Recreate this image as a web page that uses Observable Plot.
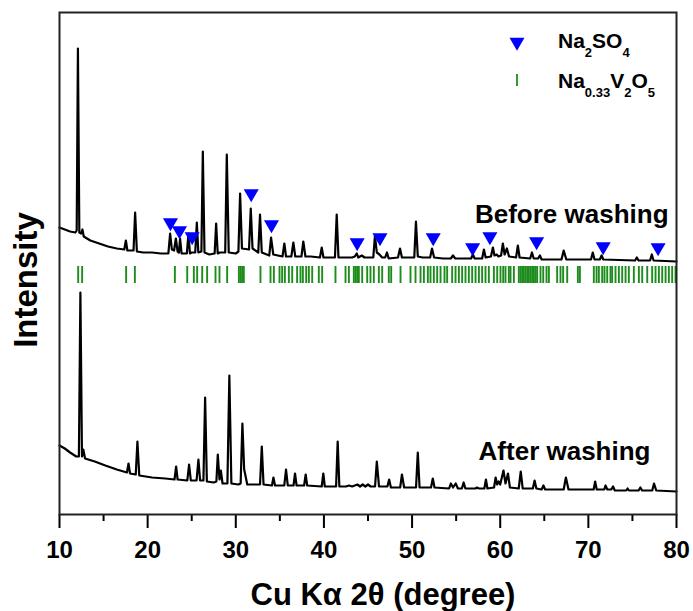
<!DOCTYPE html>
<html>
<head>
<meta charset="utf-8">
<script src="https://cdn.jsdelivr.net/npm/d3@7"></script>
<script src="https://cdn.jsdelivr.net/npm/@observablehq/plot@0.6"></script>
<style>
  html, body { margin: 0; padding: 0; background: #fff; }
  #chart { width: 693px; height: 611px; }
</style>
</head>
<body>
<div id="chart"></div>
<script>
// ---- Data (2θ in degrees, intensity in a.u.) ----
const majorTicks = [10, 20, 30, 40, 50, 60, 70, 80];
const minorTicks = [15, 25, 35, 45, 55, 65, 75];

// XRD pattern "Before washing" : [2θ, intensity]
const beforeWashing = [
  [10.0, 287], [10.6, 285], [11.2, 283], [11.8, 282], [11.95, 284], [12.09, 466], [12.25, 282], [12.45, 281],
  [12.6, 285], [12.75, 278], [13.5, 274], [14.5, 271], [15.5, 268], [16.5, 266], [17.35, 265], [17.53, 274],
  [17.7, 264], [18.4, 264], [18.58, 302], [18.78, 263], [19.5, 262], [20.5, 262], [21.5, 261], [22.35, 261],
  [22.55, 281], [22.75, 265], [23.0, 264], [23.2, 276], [23.4, 263], [23.55, 262], [23.68, 276], [23.85, 261],
  [24.45, 261], [24.63, 281], [24.8, 261], [25.0, 262], [25.4, 262], [25.58, 292], [25.75, 262], [26.1, 263],
  [26.26, 363], [26.45, 262], [27.0, 260], [27.6, 261], [27.77, 291], [27.95, 261], [28.2, 262], [28.8, 262],
  [28.98, 360], [29.2, 262], [30.0, 261], [30.3, 263], [30.49, 321], [30.7, 266], [31.5, 265], [31.7, 306],
  [31.9, 266], [32.55, 262], [32.75, 300], [32.95, 262], [33.8, 259], [34.0, 277], [34.25, 260], [35.3, 258],
  [35.51, 271], [35.7, 258], [36.3, 258], [36.53, 272], [36.75, 258], [37.45, 258], [37.66, 273], [37.9, 258],
  [38.5, 258], [39.55, 257], [39.75, 267], [39.95, 257], [41.25, 257], [41.45, 300], [41.65, 257], [42.5, 257],
  [43.2, 257], [43.5, 258], [43.72, 261], [43.9, 257], [44.3, 259], [44.6, 257], [45.6, 257], [45.79, 279],
  [46.0, 262], [46.3, 260], [46.6, 257], [46.95, 257], [47.15, 262], [47.35, 256], [48.4, 257], [48.63, 266],
  [48.85, 257], [50.25, 257], [50.44, 293], [50.65, 258], [51.2, 257], [52.05, 257], [52.26, 266], [52.5, 257],
  [53.5, 256], [54.4, 256], [54.64, 259], [54.9, 256], [56.7, 256], [56.9, 260], [57.1, 256], [57.95, 256],
  [58.15, 265], [58.35, 257], [58.95, 258], [59.17, 267], [59.35, 259], [59.6, 260], [59.8, 258], [60.1, 259],
  [60.3, 271], [60.5, 260], [60.76, 266], [61.0, 258], [61.8, 257], [62.0, 269], [62.2, 257], [63.4, 256],
  [63.6, 262], [63.8, 256], [64.3, 256], [64.5, 259], [64.7, 255], [66.95, 255], [67.2, 264], [67.5, 255],
  [70.3, 255], [70.5, 262], [70.7, 255], [71.3, 255], [71.5, 259], [71.7, 255], [75.3, 254], [75.5, 257],
  [75.7, 254], [77.0, 254], [77.2, 260], [77.4, 254], [80.0, 253]
];

// XRD pattern "After washing" : [2θ, intensity]
const afterWashing = [
  [10.0, 69], [10.6, 66], [11.2, 62], [11.9, 58], [12.2, 58], [12.37, 222], [12.55, 58], [12.7, 65],
  [12.9, 56], [14.0, 53], [15.2, 49], [16.5, 45], [17.65, 42], [17.83, 51], [18.0, 41], [18.65, 40],
  [18.84, 73], [19.05, 39], [20.5, 37], [22.0, 36], [23.05, 35], [23.23, 48], [23.4, 35], [24.5, 34],
  [24.7, 50], [24.9, 34], [25.55, 34], [25.76, 55], [25.95, 34], [26.33, 34], [26.52, 117], [26.72, 33],
  [27.5, 32], [27.8, 33], [27.96, 60], [28.15, 35], [28.3, 44], [28.5, 31], [29.05, 31], [29.27, 139],
  [29.5, 31], [30.3, 30], [30.55, 31], [30.75, 91], [30.95, 45], [31.05, 41], [31.3, 30], [32.75, 30],
  [32.95, 68], [33.15, 30], [34.1, 29], [34.27, 37], [34.45, 29], [35.5, 29], [35.7, 45], [35.9, 29],
  [36.55, 29], [36.72, 41], [36.9, 29], [37.75, 29], [37.93, 40], [38.1, 29], [39.75, 28], [39.93, 41],
  [40.1, 28], [41.38, 28], [41.56, 73], [41.75, 28], [42.5, 28], [42.85, 29], [43.2, 28], [43.8, 30],
  [44.1, 28], [44.4, 30], [44.7, 28], [45.0, 30], [45.3, 28], [45.8, 28], [46.0, 53], [46.25, 28],
  [47.2, 28], [47.4, 35], [47.6, 27], [48.65, 27], [48.85, 40], [49.1, 27], [50.45, 27], [50.65, 62],
  [50.85, 27], [52.15, 27], [52.35, 36], [52.55, 27], [54.2, 26], [54.4, 31], [54.65, 27], [54.95, 31],
  [55.2, 26], [55.65, 26], [55.85, 32], [56.05, 26], [57.2, 26], [57.35, 27], [57.6, 26], [58.2, 26],
  [58.38, 35], [58.55, 26], [59.3, 27], [59.48, 37], [59.65, 30], [59.82, 33], [60.0, 30], [60.37, 44],
  [60.6, 31], [60.88, 41], [61.1, 27], [62.1, 26], [62.33, 43], [62.55, 26], [63.7, 26], [63.9, 34],
  [64.1, 26], [64.7, 25], [64.9, 29], [65.1, 25], [67.2, 25], [67.45, 37], [67.75, 25], [70.6, 25],
  [70.77, 33], [70.95, 25], [71.8, 25], [71.95, 29], [72.15, 25], [72.6, 25], [72.8, 28], [73.0, 24],
  [74.3, 24], [74.45, 26], [74.6, 24], [75.7, 24], [75.9, 27], [76.1, 24], [77.25, 24], [77.45, 31],
  [77.7, 24], [80.0, 23]
];

// Na2SO4 reflections marked with triangles: [2θ, intensity]
const na2so4Marks = [
  [22.59, 292], [23.61, 284], [25.05, 278], [31.75, 321], [34.05, 290], [43.77, 272], [46.36, 277],
  [52.4, 277], [56.87, 267], [58.83, 278], [64.13, 273], [71.68, 268], [77.91, 267]
];

// Na0.33V2O5 reference reflections (2θ)
const navoRefs = [
  12.12, 12.57, 17.56, 18.55, 23.09, 24.49, 25.24, 25.62, 26.19, 26.75, 27.7, 28.15, 29.02, 30.35, 30.54,
  30.72, 30.91, 32.8, 33.94, 34.32, 34.96, 35.26, 35.57, 36.02, 36.4, 36.96, 37.34, 37.61, 37.99, 38.29,
  38.67, 39.42, 39.8, 41.31, 42.45, 42.83, 43.39, 43.58, 43.77, 43.96, 44.34, 44.91, 45.28, 45.66, 46.23,
  46.61, 47.36, 47.63, 48.69, 49.82, 50.39, 50.96, 51.34, 51.79, 52.09, 52.47, 52.85, 53.23, 53.68, 53.98,
  54.55, 54.93, 55.31, 55.68, 56.06, 56.44, 56.82, 57.2, 57.58, 57.95, 58.33, 58.71, 59.28, 59.66, 60.03,
  60.34, 60.6, 60.98, 61.17, 61.55, 62.11, 62.3, 62.49, 62.68, 62.87, 63.06, 63.25, 63.44, 63.63, 63.82,
  64.01, 64.19, 64.57, 64.88, 65.25, 65.52, 66.46, 66.84, 67.14, 67.6, 68.81, 69.04, 70.62, 70.93, 71.19,
  71.57, 71.83, 72.14, 72.51, 72.7, 73.08, 73.46, 73.84, 74.22, 74.59, 75.16, 75.73, 76.11, 76.68, 77.24,
  77.62, 78.0, 78.38, 78.76, 79.13, 79.51, 79.89
];
const refBarRange = [231, 248];   // intensity span of the reference bars

const seriesLabels = ["Before washing", "After washing"];

// ---- Chart ----
const FONT = "'Liberation Sans', Arial, Helvetica, sans-serif";
const GREEN = "#1d8c1d";
const chart = Plot.plot({
  width: 693,
  height: 611,
  marginLeft: 59,
  marginRight: 17,
  marginTop: 12,
  marginBottom: 97,
  style: { fontFamily: FONT, fontWeight: "bold", fontSize: "24px", background: "#fff", overflow: "visible" },
  x: { domain: [10, 80], label: null },
  y: { domain: [0, 502], axis: null },
  marks: [
    Plot.ruleX(navoRefs, { x: d => d, y1: refBarRange[0], y2: refBarRange[1], stroke: GREEN, strokeWidth: 1.9 }),
    Plot.line(beforeWashing, { x: d => d[0], y: d => d[1], stroke: "#000", strokeWidth: 2.2, strokeLinejoin: "round" }),
    Plot.line(afterWashing, { x: d => d[0], y: d => d[1], stroke: "#000", strokeWidth: 2.2, strokeLinejoin: "round" }),
    Plot.dot(na2so4Marks, { x: d => d[0], y: d => d[1], symbol: "triangle", rotate: 180, r: 5.6, fill: "#0000ff", stroke: null }),
    Plot.text([seriesLabels[0]], { x: 79.1, y: 300, text: d => d, textAnchor: "end", fontSize: 26, fontWeight: "bold", fill: "#000" }),
    Plot.text([seriesLabels[1]], { x: 77.05, y: 63, text: d => d, textAnchor: "end", fontSize: 26, fontWeight: "bold", fill: "#000" }),
    Plot.axisX({ ticks: minorTicks, tickSize: 7, tickFormat: () => "", strokeWidth: 2, stroke: "#000", label: null }),
    Plot.axisX({ ticks: majorTicks, tickSize: 14, tickPadding: 12, strokeWidth: 2, stroke: "#000", fill: "#000", fontSize: 24, fontWeight: "bold", label: null }),
    Plot.frame({ stroke: "#222", strokeWidth: 2 })
  ]
});
document.getElementById("chart").appendChild(chart);

// ---- Axis titles and legend ----
const svg = d3.select(chart);
svg.append("text")
  .attr("x", 383).attr("y", 605)
  .attr("text-anchor", "middle")
  .style("font-family", FONT).style("font-weight", "bold").style("font-size", "31px")
  .attr("fill", "#000")
  .text("Cu Kα 2θ (degree)");
svg.append("text")
  .attr("transform", "translate(36.5,280) rotate(-90)")
  .attr("text-anchor", "middle")
  .style("font-family", FONT).style("font-weight", "bold").style("font-size", "33px")
  .attr("fill", "#000")
  .text("Intensity");

const lg = svg.append("g")
  .attr("text-anchor", "start")
  .style("font-family", FONT).style("font-weight", "bold").attr("fill", "#000");
lg.append("path")
  .attr("d", d3.symbol(d3.symbolTriangle, 97))
  .attr("transform", "translate(517,42) rotate(180)")
  .attr("fill", "#0000ff");
lg.append("line")
  .attr("x1", 517).attr("x2", 517).attr("y1", 74).attr("y2", 86)
  .attr("stroke", GREEN).attr("stroke-width", 1.8);

function chem(y, parts) {
  const t = lg.append("text").attr("x", 558).attr("y", y)
    .attr("text-anchor", "start").style("font-size", "21px");
  let sub = false;
  parts.forEach(([s, isSub]) => {
    const dy = isSub && !sub ? 9 : (!isSub && sub ? -9 : 0);
    t.append("tspan").attr("dy", dy).style("font-size", isSub ? "13px" : "21px").text(s);
    sub = isSub;
  });
}
chem(48, [["Na", false], ["2", true], ["SO", false], ["4", true]]);
chem(88, [["Na", false], ["0.33", true], ["V", false], ["2", true], ["O", false], ["5", true]]);
</script>
</body>
</html>
